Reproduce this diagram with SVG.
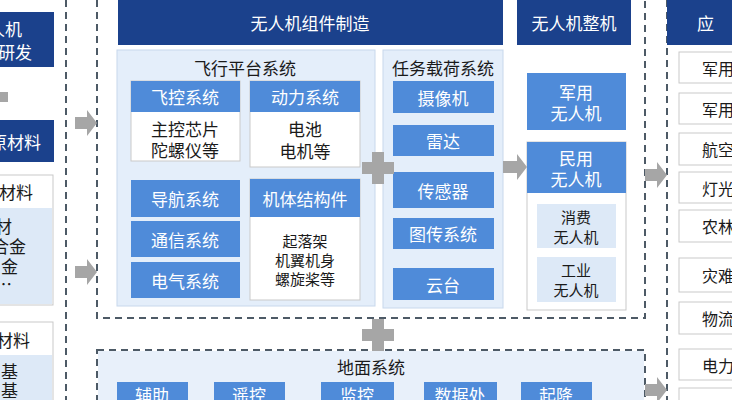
<svg xmlns="http://www.w3.org/2000/svg" width="732" height="400" viewBox="0 0 732 400">
<style>
text{font-family:"Noto Sans CJK SC","Noto Sans",sans-serif;text-anchor:middle;dominant-baseline:central}
.dk{fill:#1b418c}.md{fill:#4f8bd9}.lt{fill:#dde9f7}
.wt{fill:#fff;font-size:17px}.bk{fill:#1a1a1a;font-size:17px}
.pn{fill:#e4eefa;stroke:#c8d8ec;stroke-width:1}
.wb{fill:#fff;stroke:#c9c9c9;stroke-width:1}
.dash{fill:none;stroke:#4d5a66;stroke-width:2;stroke-dasharray:7,5}
.ar{fill:#a6a6a6}
.ap{fill:#1a1a1a;font-size:16px;text-anchor:start}
.le{text-anchor:end}
</style>
<rect width="732" height="400" fill="#ffffff"/>
<g id="frames">
<line class="dash" x1="66" y1="0" x2="66" y2="400"/>
<line class="dash" x1="667" y1="0" x2="667" y2="400"/>
<path class="dash" d="M97,0 V318 H645 V0"/>
<rect class="dash" x="97" y="350" width="548" height="60"/>
</g>
<g id="left">
<rect class="dk" x="0" y="12" width="54" height="55"/>
<text class="wt le" x="22" y="28">人机</text>
<text class="wt le" x="32" y="51">研发</text>
<rect class="dk" x="0" y="120" width="54" height="42"/>
<text class="wt le" x="41" y="141">原材料</text>
<rect class="wb" x="-1" y="175" width="54" height="130"/>
<rect class="lt" x="0" y="208" width="52" height="96"/>
<text class="bk le" x="33" y="191">材料</text>
<text class="bk le" x="12" y="225">材</text>
<text class="bk le" x="26" y="245">合金</text>
<text class="bk le" x="18" y="265">金</text>
<text class="bk le" x="12" y="283">…</text>
<rect class="wb" x="-1" y="322" width="54" height="90"/>
<rect class="lt" x="0" y="355" width="52" height="45"/>
<text class="bk le" x="30" y="339">材料</text>
<text class="bk le" x="18" y="370">基</text>
<text class="bk le" x="18" y="389">基</text>
</g>
<g id="manufacture">
<rect class="dk" x="118" y="0" width="385" height="45"/>
<text class="wt" x="310" y="22">无人机组件制造</text>
</g>
<g id="flight">
<rect class="pn" x="117" y="50" width="258" height="256"/>
<text class="bk" x="245" y="67">飞行平台系统</text>
<rect class="wb" x="131" y="81" width="109" height="80"/>
<rect class="md" x="131" y="81" width="109" height="31"/>
<text class="wt" x="185" y="96">飞控系统</text>
<text class="bk" x="185" y="128">主控芯片</text>
<text class="bk" x="185" y="149">陀螺仪等</text>
<rect class="wb" x="250" y="81" width="110" height="86"/>
<rect class="md" x="250" y="81" width="110" height="31"/>
<text class="wt" x="305" y="96">动力系统</text>
<text class="bk" x="305" y="128">电池</text>
<text class="bk" x="305" y="150">电机等</text>
<rect class="md" x="131" y="180" width="109" height="37"/>
<text class="wt" x="185" y="198">导航系统</text>
<rect class="md" x="131" y="221" width="109" height="36"/>
<text class="wt" x="185" y="239">通信系统</text>
<rect class="md" x="131" y="262" width="109" height="36"/>
<text class="wt" x="185" y="280">电气系统</text>
<rect class="wb" x="250" y="179" width="110" height="121"/>
<rect class="md" x="250" y="179" width="110" height="38"/>
<text class="wt" x="305" y="198">机体结构件</text>
<text class="bk" x="305" y="240" style="font-size:15px">起落架</text>
<text class="bk" x="305" y="259" style="font-size:15px">机翼机身</text>
<text class="bk" x="305" y="278" style="font-size:15px">螺旋桨等</text>
</g>
<g id="payload">
<rect class="pn" x="383" y="50" width="120" height="258"/>
<text class="bk" x="443" y="67">任务载荷系统</text>
<rect class="md" x="393" y="81" width="101" height="32"/><text class="wt" x="443" y="97">摄像机</text>
<rect class="md" x="393" y="125" width="101" height="31"/><text class="wt" x="443" y="140">雷达</text>
<rect class="md" x="393" y="172" width="101" height="36"/><text class="wt" x="443" y="190">传感器</text>
<rect class="md" x="393" y="218" width="101" height="31"/><text class="wt" x="443" y="233">图传系统</text>
<rect class="md" x="393" y="268" width="101" height="32"/><text class="wt" x="443" y="284">云台</text>
</g>
<g id="whole">
<rect class="dk" x="517" y="0" width="114" height="45"/>
<text class="wt" x="574" y="22">无人机整机</text>
<rect class="md" x="527" y="73" width="99" height="57"/>
<text class="wt" x="576" y="91">军用</text><text class="wt" x="576" y="112">无人机</text>
<rect class="wb" x="527" y="142" width="99" height="168"/>
<rect class="md" x="527" y="142" width="99" height="51"/>
<text class="wt" x="576" y="157">民用</text><text class="wt" x="576" y="178">无人机</text>
<rect class="lt" x="537" y="204" width="79" height="44"/>
<text class="bk" x="576" y="216" style="font-size:15px">消费</text><text class="bk" x="576" y="236" style="font-size:15px">无人机</text>
<rect class="lt" x="537" y="257" width="79" height="45"/>
<text class="bk" x="576" y="269" style="font-size:15px">工业</text><text class="bk" x="576" y="289" style="font-size:15px">无人机</text>
</g>
<g id="apps">
<rect class="dk" x="667" y="0" width="70" height="45"/>
<text class="wt" x="697" y="22" style="text-anchor:start">应</text>
<rect class="wb" x="679" y="52" width="60" height="31"/><text class="ap" x="702" y="68">军用</text>
<rect class="wb" x="679" y="93" width="60" height="31"/><text class="ap" x="702" y="109">军用</text>
<rect class="wb" x="679" y="133" width="60" height="32"/><text class="ap" x="702" y="149">航空</text>
<rect class="wb" x="679" y="172" width="60" height="31"/><text class="ap" x="702" y="188">灯光</text>
<rect class="wb" x="679" y="210" width="60" height="32"/><text class="ap" x="702" y="226">农林</text>
<rect class="wb" x="679" y="258" width="60" height="34"/><text class="ap" x="702" y="275">灾难</text>
<rect class="wb" x="679" y="302" width="60" height="32"/><text class="ap" x="702" y="318">物流</text>
<rect class="wb" x="679" y="349" width="60" height="31"/><text class="ap" x="702" y="365">电力</text>
<rect class="wb" x="679" y="388" width="60" height="20"/>
</g>
<g id="ground">
<rect x="98" y="351" width="546" height="58" fill="#e8f0fa"/>
<text class="bk" x="371" y="366">地面系统</text>
<rect class="md" x="117" y="382" width="71" height="24"/><text class="wt" x="152" y="394">辅助</text>
<rect class="md" x="214" y="382" width="71" height="24"/><text class="wt" x="249" y="394">遥控</text>
<rect class="md" x="321" y="382" width="73" height="24"/><text class="wt" x="357" y="394">监控</text>
<rect class="md" x="424" y="382" width="73" height="24"/><text class="wt" x="460" y="394">数据处</text>
<rect class="md" x="521" y="382" width="71" height="24"/><text class="wt" x="556" y="394">起降</text>
</g>
<g id="connectors">
<path class="ar" d="M75,117 h12 v-7 l10,13 l-10,13 v-7 h-12z"/>
<path class="ar" d="M75,266 h12 v-7 l10,13 l-10,13 v-7 h-12z"/>
<path class="ar" d="M503,161 h14 v-7 l10,13 l-10,13 v-7 h-14z"/>
<path class="ar" d="M645,169 h12 v-7 l10,13 l-10,13 v-7 h-12z"/>
<path class="ar" d="M645,384 h12 v-7 l10,13 l-10,13 v-7 h-12z"/>
<path class="ar" d="M372,152 h12 v10 h10 v12 h-10 v10 h-12 v-10 h-10 v-12 h10z"/>
<path class="ar" d="M372,319 h12 v10 h10 v12 h-10 v10 h-12 v-10 h-10 v-12 h10z"/>
<rect class="ar" x="0" y="92" width="8" height="10"/>
</g>
</svg>
